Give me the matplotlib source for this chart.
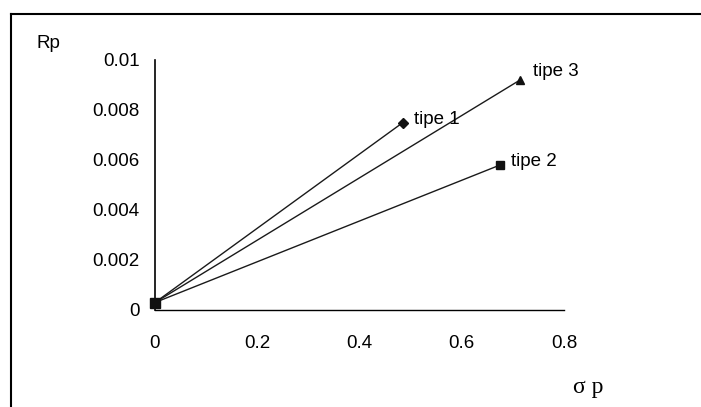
import matplotlib
matplotlib.use("Agg")
import matplotlib.pyplot as plt
from matplotlib.lines import Line2D

# values
origin = (0.0, 0.0003)
series_names = ["tipe 1", "tipe 2", "tipe 3"]
sigma_p = [0.485, 0.675, 0.714]
rp = [0.0075, 0.0058, 0.0092]
markers = ["D", "s", "^"]
x_ticks = [0, 0.2, 0.4, 0.6, 0.8]
x_labels = ["0", "0.2", "0.4", "0.6", "0.8"]
y_ticks = [0, 0.002, 0.004, 0.006, 0.008, 0.01]
y_labels = ["0", "0.002", "0.004", "0.006", "0.008", "0.01"]

plt.rcParams["font.family"] = ["Liberation Sans", "DejaVu Sans"]

W, H = 701, 407
fig = plt.figure(figsize=(W / 100, H / 100), dpi=100)
ax = fig.add_axes([155 / W, 1 - 310 / H, (564 - 155) / W, 250 / H])

for name, x, y, m in zip(series_names, sigma_p, rp, markers):
    ax.plot([origin[0], x], [origin[1], y], color="#1a1a1a", lw=1.0,
            clip_on=False, zorder=3)
    ms = 5 if m == "D" else 6
    ax.plot([x], [y], marker=m, color="#111111", ms=ms, ls="none",
            clip_on=False, zorder=4)

ax.plot([origin[0]], [origin[1]], marker="s", color="#111111", ms=7,
        clip_on=False, zorder=5)

# labels next to the end points
ax.annotate("tipe 1", (sigma_p[0], rp[0]), xytext=(11, 3),
            textcoords="offset pixels", va="center", fontsize=13.5)
ax.annotate("tipe 2", (sigma_p[1], rp[1]), xytext=(11, 4),
            textcoords="offset pixels", va="center", fontsize=13.5)
ax.annotate("tipe 3", (sigma_p[2], rp[2]), xytext=(13, 9),
            textcoords="offset pixels", va="center", fontsize=13.5)

ax.set_xlim(0, 0.8)
ax.set_ylim(0, 0.01)
ax.set_xticks(x_ticks, x_labels)
ax.set_yticks(y_ticks, y_labels)
ax.tick_params(axis="x", length=0, pad=18, labelsize=13.5)
ax.tick_params(axis="y", length=0, pad=11, labelsize=13.5)
# little stub of the y axis below the x axis, as in the scan
ax.set_xticks([0], minor=True)
ax.tick_params(axis="x", which="minor", direction="out", length=5, width=1.2)
for s in ["top", "right"]:
    ax.spines[s].set_visible(False)
ax.spines["left"].set_linewidth(1.2)
ax.spines["bottom"].set_linewidth(1.0)
ax.set_facecolor("none")

fig.text(37 / W, 1 - 43 / H, "Rp", fontsize=13.5, va="center", ha="left")
fig.text(573 / W, 1 - 388 / H, "σ p", fontsize=17, va="center", ha="left",
         family=["Liberation Serif", "DejaVu Serif"])

# outer frame of the scanned page (runs off the right and bottom edges)
fig.add_artist(Line2D([11 / W, 1.0], [1 - 14 / H, 1 - 14 / H], color="black",
                      lw=1.5, transform=fig.transFigure))
fig.add_artist(Line2D([11 / W, 11 / W], [0.0, 1 - 14 / H], color="black",
                      lw=1.5, transform=fig.transFigure))

fig.savefig("out.png", dpi=100)
